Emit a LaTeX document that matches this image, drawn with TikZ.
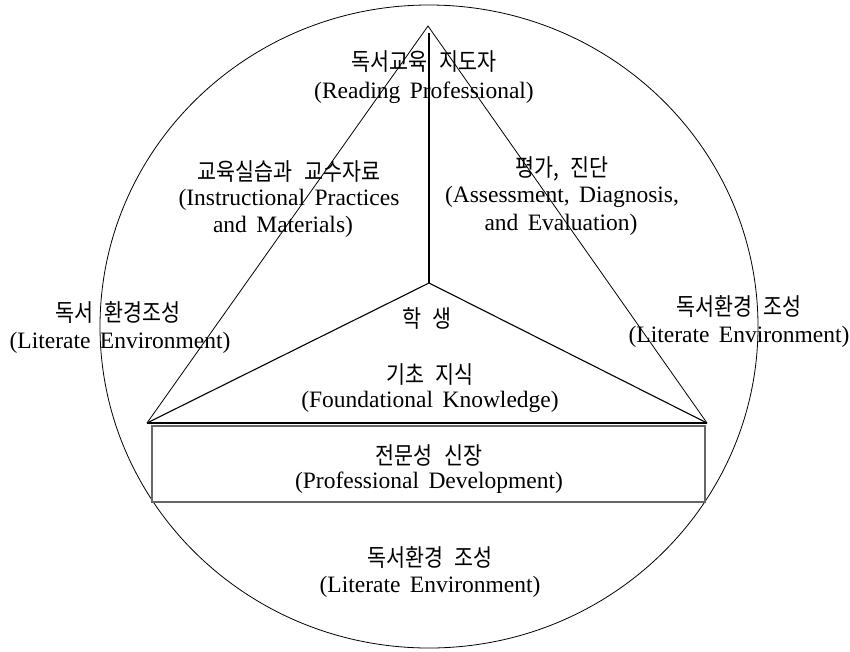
\documentclass[tikz,border=0pt]{standalone}
\usepackage{fontspec}
\setmainfont{Liberation Serif}[WordSpace=1.6]
\newfontfamily\kr{Noto Sans CJK KR}[FakeStretch=0.86,WordSpace=2.5]
\begin{document}
\begin{tikzpicture}[x=1pt,y=-1pt,
  kt/.style={font=\kr\fontsize{24}{28}\selectfont, inner sep=0pt, anchor=center},
  et/.style={font=\fontsize{23.5}{28}\selectfont, inner sep=0pt, anchor=center},
  thin line/.style={line width=0.8pt, black},
  mid line/.style={line width=1.1pt, black},
  box line/.style={line width=1.3pt, black!60}]
\useasboundingbox (0,0) rectangle (850,651);
% geometry
\coordinate (A) at (428,26);
\coordinate (L) at (147,423);
\coordinate (R) at (707,423);
\coordinate (C) at (429,283);
\coordinate (T) at (429,33);
\coordinate (O) at (429,326.5);
% outer ellipse
\draw[thin line] (O) ellipse [x radius=329pt, y radius=321.5pt];
% triangle
\draw[thin line] (L) -- (A) -- (R);
\draw[mid line] (L) -- (R);
% vertical divider and chevron
\draw[mid line] (T) -- (C);
\draw[mid line] (L) -- (C) -- (R);
% rectangle
\node[box line, draw, minimum width=553pt, minimum height=76pt, inner sep=0pt] (box) at (428.5,464) {};
% texts
\node[kt] (k1) at (424,62) {독서교육 지도자};
\node[et] (e1) at (424,93) {(Reading Professional)};
\node[kt] (k2) at (289,172) {교육실습과 교수자료};
\node[et] (e2a) at (289,200) {(Instructional Practices};
\node[et] (e2b) at (283,227) {and Materials)};
\node[kt] (k3) at (562,169) {평가, 진단};
\node[et] (e3a) at (562,197) {(Assessment, Diagnosis,};
\node[et] (e3b) at (561,225) {and Evaluation)};
\node[kt] (k4) at (118,313) {독서 환경조성};
\node[et] (e4) at (120,343) {(Literate Environment)};
\node[kt] (k5) at (739,307) {독서환경 조성};
\node[et] (e5) at (739,337) {(Literate Environment)};
\node[kt] (k6) at (427,318) {학 생};
\node[kt] (k7) at (430,375) {기초 지식};
\node[et] (e7) at (430,402) {(Foundational Knowledge)};
\node[kt] (k8) at (429,455) {전문성 신장};
\node[et] (e8) at (429,483) {(Professional Development)};
\node[kt] (k9) at (430,558) {독서환경 조성};
\node[et] (e9) at (430,587) {(Literate Environment)};
\end{tikzpicture}
\end{document}
